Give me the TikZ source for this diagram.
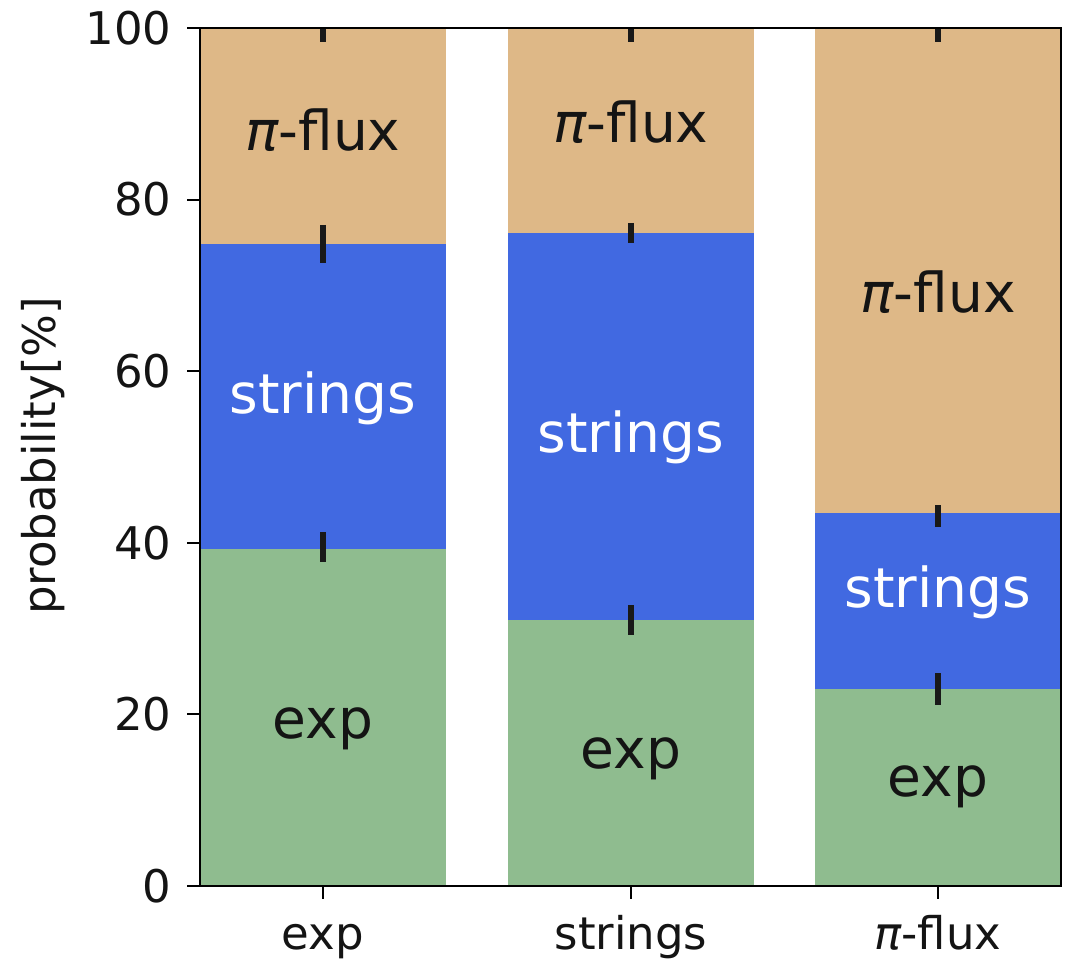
\documentclass[tikz,border=0pt]{standalone}
\usepackage{fontspec}
\setmainfont{DejaVu Sans}
\definecolor{cflux}{RGB}{222,184,135}
\definecolor{cstr}{RGB}{65,105,225}
\definecolor{cexp}{RGB}{143,188,143}
\definecolor{ctxt}{RGB}{20,20,20}
\begin{document}
\begin{tikzpicture}[x=0.5pt,y=-0.5pt,
  seg/.style={draw=none},
  errbar/.style={line width=2.6pt,color=black!90},
  tickl/.style={line width=1pt},
  ticklab/.style={font=\fontsize{22.5}{26}\selectfont,text=ctxt,inner sep=0pt},
  barlab/.style={font=\fontsize{27.5}{32}\selectfont,text=ctxt,inner sep=0pt},
  barlabw/.style={font=\fontsize{27.5}{32}\selectfont,text=white,inner sep=0pt}]
\useasboundingbox (0,0) rectangle (1068,961);
% y(v) = 886 - 8.58 v
% bar 1 (exp): 0-39.3-74.8-100
\fill[cexp] (200,886) rectangle (446,548.8);
\fill[cstr] (200,548.8) rectangle (446,244.2);
\fill[cflux] (200,244.2) rectangle (446,28);
% bar 2 (strings): 0-31.0-76.1-100
\fill[cexp] (508,886) rectangle (754,620);
\fill[cstr] (508,620) rectangle (754,233);
\fill[cflux] (508,233) rectangle (754,28);
% bar 3 (pi-flux): 0-23.0-43.5-100
\fill[cexp] (815,886) rectangle (1061,689);
\fill[cstr] (815,689) rectangle (1061,513);
\fill[cflux] (815,513) rectangle (1061,28);
% error bars
\coordinate (e1a) at (323,532); \coordinate (e1b) at (323,562);
\coordinate (e2a) at (323,225); \coordinate (e2b) at (323,263);
\coordinate (e3a) at (323,28);  \coordinate (e3b) at (323,42);
\coordinate (f1a) at (631,605); \coordinate (f1b) at (631,635);
\coordinate (f2a) at (631,223); \coordinate (f2b) at (631,243);
\coordinate (f3a) at (631,28);  \coordinate (f3b) at (631,42);
\coordinate (g1a) at (938,673); \coordinate (g1b) at (938,705);
\coordinate (g2a) at (938,505); \coordinate (g2b) at (938,527);
\coordinate (g3a) at (938,28);  \coordinate (g3b) at (938,42);
\foreach \p in {e1,e2,e3,f1,f2,f3,g1,g2,g3}{
  \draw[errbar] (\p a) -- (\p b);
}
% bar labels
\node[barlab]  (l1a) at (323,130) {{\itshape π}-flux};
\node[barlabw] (l1b) at (323,398) {strings};
\node[barlab]  (l1c) at (323,729) {exp};
\node[barlab]  (l2a) at (631,122) {{\itshape π}-flux};
\node[barlabw] (l2b) at (631,437) {strings};
\node[barlab]  (l2c) at (631,759) {exp};
\node[barlab]  (l3a) at (938,292) {{\itshape π}-flux};
\node[barlabw] (l3b) at (938,592) {strings};
\node[barlab]  (l3c) at (938,787) {exp};
% frame
\draw[line width=1pt] (200,28) rectangle (1061,886);
% y ticks
\foreach \v in {0,20,40,60,80,100}{
  \draw[tickl] (187,{886-8.58*\v}) -- (200,{886-8.58*\v});
  \node[ticklab,anchor=east] (yt\v) at (172,{886-8.58*\v}) {\v};
}
% x ticks
\foreach \x/\n in {323/a,631/b,938/c}{
  \draw[tickl] (\x,886) -- (\x,899);
}
\node[ticklab,anchor=base] (xa) at (323,949) {exp};
\node[ticklab,anchor=base] (xb) at (631,949) {strings};
\node[ticklab,anchor=base] (xc) at (938,949) {{\itshape π}-flux};
% y label
\node[ticklab,rotate=90] (ylab) at (43,456) {probability[\%]};
\end{tikzpicture}
\end{document}
